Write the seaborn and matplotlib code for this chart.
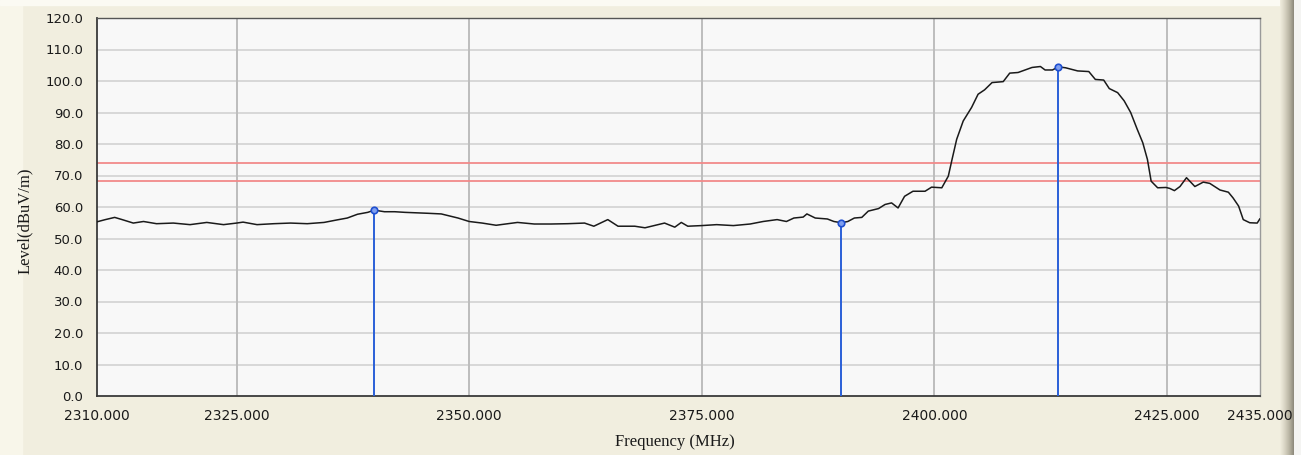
import numpy as np
import pandas as pd
import matplotlib
matplotlib.use("Agg")
import matplotlib.pyplot as plt
import seaborn as sns
from matplotlib.patches import Rectangle

# Trace (MHz, dBuV/m)
freq = [2310.0, 2310.9, 2311.9, 2312.7, 2313.9, 2315.0, 2316.4, 2318.2, 2320.0, 2321.8,
        2323.6, 2325.0, 2325.7, 2327.2, 2329.0, 2330.8, 2332.6, 2334.4, 2335.8, 2336.9,
        2338.0, 2339.1, 2339.8, 2340.9, 2342.0, 2343.1, 2345.6, 2347.0, 2348.8, 2350.0,
        2351.4, 2352.9, 2353.4, 2355.2, 2357.0, 2358.8, 2360.6, 2362.4, 2363.4, 2364.9,
        2366.0, 2367.8, 2368.9, 2371.0, 2372.1, 2372.8, 2373.5, 2375.0, 2376.6, 2378.4,
        2380.2, 2381.6, 2383.1, 2384.1, 2384.9, 2385.9, 2386.3, 2387.2, 2388.5, 2389.2,
        2390.0, 2390.7, 2391.4, 2392.2, 2392.9, 2394.0, 2394.7, 2395.4, 2396.1, 2396.8,
        2397.7, 2399.0, 2399.7, 2400.8, 2401.5, 2401.9, 2402.4, 2403.1, 2404.0, 2404.7,
        2405.4, 2406.2, 2407.4, 2408.1, 2409.0, 2410.5, 2411.4, 2411.9, 2412.7, 2413.3,
        2414.1, 2415.4, 2416.6, 2417.3, 2418.2, 2418.8, 2419.7, 2420.4, 2421.1, 2421.8,
        2422.4, 2422.9, 2423.3, 2424.0, 2424.9, 2425.3, 2425.8, 2426.4, 2427.1, 2428.0,
        2428.9, 2429.6, 2430.7, 2431.6, 2432.1, 2432.7, 2433.2, 2433.9, 2434.7, 2435.0]
level = [55.3, 56.0, 56.7, 56.0, 54.9, 55.4, 54.7, 54.9, 54.4, 55.1,
         54.4, 54.9, 55.2, 54.4, 54.7, 54.9, 54.7, 55.1, 55.9, 56.5,
         57.7, 58.3, 59.0, 58.5, 58.5, 58.3, 58.0, 57.8, 56.5, 55.4,
         54.9, 54.2, 54.4, 55.1, 54.6, 54.6, 54.7, 54.9, 53.9, 56.0,
         53.9, 53.9, 53.4, 54.9, 53.6, 55.1, 53.9, 54.1, 54.4, 54.1,
         54.6, 55.4, 56.0, 55.4, 56.5, 56.8, 57.8, 56.5, 56.2, 55.4,
         55.0, 55.4, 56.5, 56.7, 58.7, 59.5, 60.8, 61.3, 59.7, 63.4,
         65.0, 65.0, 66.3, 66.1, 69.8, 75.1, 81.5, 87.3, 91.6, 95.8,
         97.2, 99.5, 99.8, 102.5, 102.7, 104.3, 104.6, 103.5, 103.5, 104.5,
         104.2, 103.2, 103.0, 100.5, 100.3, 97.6, 96.3, 93.7, 90.0, 84.7,
         80.4, 75.1, 68.2, 66.1, 66.2, 65.9, 65.2, 66.5, 69.3, 66.5,
         67.9, 67.5, 65.4, 64.7, 62.9, 60.3, 56.0, 55.0, 54.9, 56.3]

marker_freq = [2339.8, 2390.0, 2413.3]
marker_level = [59.0, 55.0, 104.5]

limit_levels = [74.0, 68.2]

x_ticks = [2310, 2325, 2350, 2375, 2400, 2425, 2435]
y_ticks = list(range(0, 121, 10))

trace = pd.DataFrame({"Frequency": freq, "Level": level})
marks = pd.DataFrame({"Frequency": marker_freq, "Level": marker_level})

sns.set_style("white")
plt.rcParams["font.family"] = ["DejaVu Sans"]

bg = "#f1eedf"
fig = plt.figure(figsize=(13.01, 4.55), dpi=100, facecolor=bg)

# window chrome: lighter left strip, top strip, right border gradient
fig.patches.append(Rectangle((0, 0), 22 / 1301, 1, transform=fig.transFigure,
                             color="#f8f6ea", zorder=-10))
fig.patches.append(Rectangle((0, 1 - 5 / 455), 1, 5 / 455, transform=fig.transFigure,
                             color="#fbfaf3", zorder=-10))
edge = fig.add_axes([1280 / 1301, 0, 14 / 1301, 1], zorder=-5)
grad = np.linspace(0, 1, 64)[None, :]
edge.imshow(grad, aspect="auto", cmap=matplotlib.colors.LinearSegmentedColormap.from_list(
    "edge", [bg, "#d9d5c4", "#b9b5a4", "#8c887a"]), extent=[0, 1, 0, 1])
edge.axis("off")
fig.patches.append(Rectangle((1294 / 1301, 0), 7 / 1301, 1, transform=fig.transFigure,
                             color="#f4f4f2", zorder=-10))

ax = fig.add_axes([97 / 1301, 1 - 396 / 455, (1260 - 97) / 1301, (396 - 18) / 455])
ax.set_facecolor("#f8f8f8")

# grid
for y in y_ticks[1:-1]:
    ax.axhline(y, color="#d8d8d8", lw=1.4, zorder=1)
for x in x_ticks[1:-1]:
    ax.axvline(x, color="#bdbdbd", lw=1.4, zorder=1)

# limit lines
for lv in limit_levels:
    ax.axhline(lv, color="#f28a8a", lw=1.3, zorder=2)

sns.lineplot(data=trace, x="Frequency", y="Level", ax=ax, color="#1a1a1a",
             lw=1.1, sort=False, estimator=None, zorder=4)

ax.vlines(marks["Frequency"], 0, marks["Level"], color="#2a5fd8", lw=1.4, zorder=3)
sns.scatterplot(data=marks, x="Frequency", y="Level", ax=ax, s=22, marker="o",
                facecolor="#7f9ff0", edgecolor="#1f4fd0", linewidth=1.2, zorder=5)

ax.set_xlim(2310, 2435)
ax.set_ylim(0, 120)
ax.set_xticks(x_ticks)
ax.set_xticklabels([f"{t:.3f}" for t in x_ticks])
ax.set_yticks(y_ticks)
ax.set_yticklabels([f"{t:.1f}" for t in y_ticks])
ax.tick_params(axis="both", direction="out", width=1, color="#333333",
               labelcolor="#1a1a1a")
ax.tick_params(axis="x", length=4, labelsize=10, pad=5)
ax.tick_params(axis="y", length=7, labelsize=9.5, pad=3)

for side in ["left", "bottom"]:
    ax.spines[side].set_color("#3a3a3a")
    ax.spines[side].set_linewidth(1.3)
ax.spines["top"].set_color("#555555")
ax.spines["top"].set_linewidth(1.0)
ax.spines["right"].set_color("#9a9a9a")
ax.spines["right"].set_linewidth(1.0)

serif = ["Liberation Serif", "DejaVu Serif"]
ax.set_xlabel("Frequency (MHz)", family=serif, fontsize=12, color="#1a1a1a")
ax.set_ylabel("Level(dBuV/m)", family=serif, fontsize=12, color="#1a1a1a")
ax.xaxis.label.set_va("center")
ax.yaxis.label.set_va("center")
ax.xaxis.set_label_coords(0.497, -(442 - 396) / 378)
ax.yaxis.set_label_coords((25 - 97) / 1163, (396 - 221) / 378)

fig.savefig("out.png", dpi=100, facecolor=bg)
